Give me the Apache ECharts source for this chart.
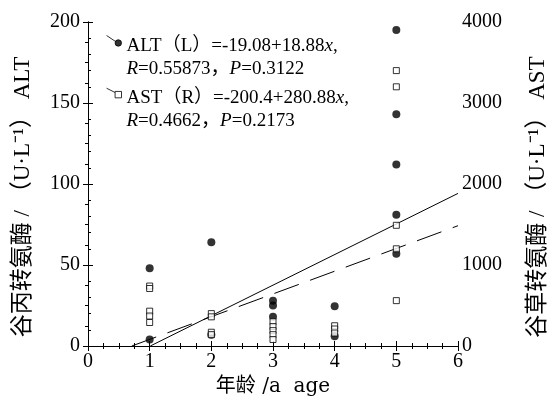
<!DOCTYPE html>
<html>
<head>
<meta charset="utf-8">
<script src="https://cdn.jsdelivr.net/npm/echarts@6/dist/echarts.min.js"></script>
<style>
  html, body { margin: 0; padding: 0; background: #fff; }
  #chart { width: 552px; height: 403px; }
</style>
</head>
<body>
<div id="chart"></div>
<script>
// 年龄 (a) 与转氨酶数据，读自原图
let altAge = [1, 1, 2, 2, 3, 3, 3, 4, 4, 5, 5, 5, 5, 5];
let altVal = [48, 4, 64, 7, 28, 25, 18, 24.5, 6, 195, 143, 112, 81, 57];
let astAge = [1, 1, 1, 1, 1, 2, 2, 2, 2, 3, 3, 3, 3, 3, 4, 4, 4, 5, 5, 5, 5, 5];
let astVal = [740, 710, 430, 370, 290, 400, 360, 170, 140, 300, 240, 190, 140, 80, 250, 210, 160, 3400, 3200, 1490, 1200, 560];
// 回归线端点
let altFitX = [1.01, 6];
let altFitY = [0, 94.2];
let astFitX = [0.71, 6];
let astFitY = [0, 1485];

let serif = "'Liberation Serif', 'Noto Sans CJK SC', serif";
let wide = "'DejaVu Serif', 'Noto Sans CJK SC', serif";
let pairs = (xs, ys) => xs.map((v, i) => [v, ys[i]]);

let chart = echarts.init(document.getElementById('chart'));
function axisBase(minorSplit) {
    return {
        axisLine: { lineStyle: { color: '#000', width: 1 } },
        axisTick: { show: true, inside: true, length: 5, lineStyle: { color: '#000' } },
        minorTick: { show: true, splitNumber: minorSplit, length: 3, lineStyle: { color: '#000' } },
        splitLine: { show: false },
        axisLabel: { color: '#000', fontFamily: serif, fontSize: 20 }
    };
}
let legendRich = {
    t: { fontFamily: serif, fontSize: 19, color: '#000', lineHeight: 23 },
    i: { fontFamily: serif, fontSize: 19, color: '#000', fontStyle: 'italic', lineHeight: 23 }
};
let option = {
    animation: false,
    backgroundColor: '#fff',
    grid: { left: 88, right: 94, top: 22, bottom: 57, outerBoundsMode: 'none' },
    legend: {
        data: [
            { name: 'ALT', icon: 'path://M0,46M1,5L10,11M15,12a3,3 0 1,0 -6,0a3,3 0 1,0 6,0z',
              itemStyle: { color: '#000', borderColor: '#000', borderWidth: 1 } },
            { name: 'AST', icon: 'path://M0,46M1,6L9,10M9,9L15,9L15,15L9,15z',
              itemStyle: { color: '#fff', borderColor: '#000', borderWidth: 1 } }
        ],
        orient: 'vertical',
        left: 100,
        top: 30,
        itemWidth: 16,
        itemHeight: 46,
        itemGap: 8,
        formatter: function (name) {
            if (name === 'ALT') {
                return '{t|ALT（L）=-19.08+18.88}{i|x}{t|,}\n{i|R}{t|=0.55873，}{i|P}{t|=0.3122}';
            }
            return '{t|AST（R）=-200.4+280.88}{i|x}{t|,}\n{i|R}{t|=0.4662，}{i|P}{t|=0.2173}';
        },
        textStyle: { rich: legendRich }
    },
    xAxis: [
        Object.assign(axisBase(4), {
            type: 'value', min: 0, max: 6, interval: 1, position: 'bottom',
            axisLabel: { color: '#000', fontFamily: serif, fontSize: 20, margin: 6 },
            name: '年龄 /a  age', nameLocation: 'middle', nameGap: 27,
            nameTextStyle: { color: '#000', fontFamily: wide, fontSize: 20 }
        }),
        Object.assign(axisBase(4), {
            type: 'value', min: 0, max: 6, interval: 1, position: 'top',
            axisLabel: { show: false }
        })
    ],
    yAxis: [
        Object.assign(axisBase(5), {
            type: 'value', min: 0, max: 200, interval: 50, position: 'left',
            name: '谷丙转氨酶 / （U·L⁻¹） ALT', nameLocation: 'middle', nameGap: 54, nameRotate: 90,
            nameTextStyle: { color: '#000', fontFamily: serif, fontSize: 23, padding: [0, 26, 0, 0] }
        }),
        Object.assign(axisBase(4), {
            type: 'value', min: 0, max: 4000, interval: 1000, position: 'right',
            name: '谷草转氨酶 / （U·L⁻¹） AST', nameLocation: 'middle', nameGap: 68, nameRotate: 90,
            nameTextStyle: { color: '#000', fontFamily: serif, fontSize: 23, padding: [0, 26, 0, 0] },
            axisLabel: { color: '#000', fontFamily: serif, fontSize: 20, margin: 4, formatter: v => String(v) }
        })
    ],
    series: [
        {
            name: 'ALT', type: 'scatter', yAxisIndex: 0, data: pairs(altAge, altVal),
            symbol: 'circle', symbolSize: 8, itemStyle: { color: '#000' }, z: 3
        },
        {
            name: 'AST', type: 'scatter', yAxisIndex: 1, data: pairs(astAge, astVal),
            symbol: 'rect', symbolSize: 6,
            itemStyle: { color: '#fff', borderColor: '#000', borderWidth: 1 }, z: 4
        },
        {
            name: 'ALT fit', type: 'line', yAxisIndex: 0, data: pairs(altFitX, altFitY),
            symbol: 'none', lineStyle: { color: '#000', width: 1 }, z: 2
        },
        {
            name: 'AST fit', type: 'line', yAxisIndex: 1, data: pairs(astFitX, astFitY),
            symbol: 'none', lineStyle: { color: '#000', width: 1, type: [26, 12] }, z: 2
        }
    ]
};
chart.setOption(option);
</script>
</body>
</html>
